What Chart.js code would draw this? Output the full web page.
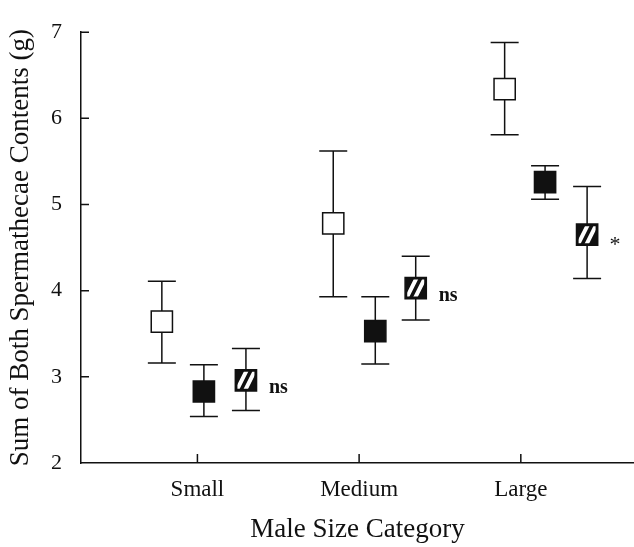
<!DOCTYPE html>
<html>
<head>
<meta charset="utf-8">
<script src="https://cdn.jsdelivr.net/npm/chart.js@4"></script>
<style>
  html, body { margin: 0; padding: 0; background: #fff; overflow: hidden; }
  #wrap { width: 634px; height: 547px; }
</style>
</head>
<body>
<div id="wrap"><canvas id="Chart" width="634" height="547"></canvas></div>
<script>
// categories and tick labels
const categories = ["Small", "Medium", "Large"];
const yTicks = [2, 3, 4, 5, 6, 7];

// where each marker sits along the x axis (category units, 1 = Small)
const openX = [0.78, 1.84, 2.90];
const filledX = [1.04, 2.10, 3.15];
const hatchedX = [1.30, 2.35, 3.41];

// means and error bar ends
const openMeans = [3.64, 4.78, 6.34];
const openLow = [3.16, 3.93, 5.81];
const openHigh = [4.11, 5.62, 6.88];

const filledMeans = [2.83, 3.53, 5.26];
const filledLow = [2.54, 3.15, 5.06];
const filledHigh = [3.14, 3.93, 5.45];

const hatchedMeans = [2.96, 4.03, 4.65];
const hatchedLow = [2.61, 3.66, 4.14];
const hatchedHigh = [3.33, 4.40, 5.21];

const significance = ["ns", "ns", "*"];

const INK = "#111";
const SERIF = "'Liberation Serif', 'DejaVu Serif', serif";

function points(xs, ys) {
  return xs.map(function (x, i) { return { x: x, y: ys[i] }; });
}

const errorBars = [
  { low: openLow, high: openHigh },
  { low: filledLow, high: filledHigh },
  { low: hatchedLow, high: hatchedHigh },
];

const errorBarPlugin = {
  id: "errorBars",
  afterLayout(chart) {
    // let the x axis run to the right edge of the canvas
    const x = chart.scales.x;
    const r = chart.width;
    chart.chartArea.right = r;
    chart.chartArea.width = r - chart.chartArea.left;
    x.right = r;
    x.width = r - x.left;
    x.configure();
    x._labelItems = null;
    x._gridLineItems = null;
  },
  beforeDatasetsDraw(chart) {
    const ctx = chart.ctx;
    const ys = chart.scales.y;
    ctx.save();
    ctx.strokeStyle = INK;
    ctx.lineWidth = 1.5;
    chart.data.datasets.forEach(function (ds, i) {
      const meta = chart.getDatasetMeta(i);
      meta.data.forEach(function (pt, j) {
        const yLo = ys.getPixelForValue(errorBars[i].low[j]);
        const yHi = ys.getPixelForValue(errorBars[i].high[j]);
        ctx.beginPath();
        ctx.moveTo(pt.x, yLo); ctx.lineTo(pt.x, yHi);
        ctx.moveTo(pt.x - 14, yLo); ctx.lineTo(pt.x + 14, yLo);
        ctx.moveTo(pt.x - 14, yHi); ctx.lineTo(pt.x + 14, yHi);
        ctx.stroke();
      });
    });
    ctx.restore();
  },
  afterDatasetsDraw(chart) {
    const ctx = chart.ctx;
    const meta = chart.getDatasetMeta(2);
    ctx.save();
    // white diagonal stripes in the hatched boxes
    meta.data.forEach(function (pt) {
      ctx.save();
      ctx.beginPath();
      ctx.rect(pt.x - 8.5, pt.y - 8.5, 17, 17);
      ctx.clip();
      ctx.strokeStyle = "#fff";
      ctx.lineWidth = 4;
      ctx.beginPath();
      [-4.2, 4.2].forEach(function (dx) {
        ctx.moveTo(pt.x + dx - 6, pt.y + 12);
        ctx.lineTo(pt.x + dx + 6, pt.y - 12);
      });
      ctx.stroke();
      ctx.restore();
    });
    ctx.fillStyle = INK;
    ctx.textBaseline = "middle";
    meta.data.forEach(function (pt, j) {
      const t = significance[j];
      if (t === "*") {
        ctx.font = "22px " + SERIF;
        ctx.textAlign = "center";
        ctx.fillText(t, pt.x + 28, pt.y + 11);
      } else {
        ctx.font = "bold 20px " + SERIF;
        ctx.textAlign = "left";
        ctx.fillText(t, pt.x + 23, pt.y + 8);
      }
    });
    ctx.restore();
  },
  afterDraw(chart) {
    // tick marks pointing into the plot
    const ctx = chart.ctx;
    const xs = chart.scales.x, ys = chart.scales.y;
    const a = chart.chartArea;
    ctx.save();
    ctx.strokeStyle = INK;
    ctx.lineWidth = 1.5;
    ctx.beginPath();
    yTicks.forEach(function (v) {
      if (v === yTicks[0]) return;
      const y = ys.getPixelForValue(v);
      ctx.moveTo(a.left, y); ctx.lineTo(a.left + 8, y);
    });
    categories.forEach(function (c, i) {
      const x = xs.getPixelForValue(i + 1);
      ctx.moveTo(x, a.bottom); ctx.lineTo(x, a.bottom - 9);
    });
    ctx.stroke();
    ctx.restore();
  },
};

new Chart(document.getElementById("Chart").getContext("2d"), {
  type: "scatter",
  data: {
    datasets: [
      {
        data: points(openX, openMeans),
        pointStyle: "rect",
        pointRadius: 15,
        backgroundColor: "#fff",
        borderColor: INK,
        borderWidth: 1.5,
      },
      {
        data: points(filledX, filledMeans),
        pointStyle: "rect",
        pointRadius: 15,
        backgroundColor: INK,
        borderColor: INK,
        borderWidth: 1.5,
      },
      {
        data: points(hatchedX, hatchedMeans),
        pointStyle: "rect",
        pointRadius: 15,
        backgroundColor: INK,
        borderColor: INK,
        borderWidth: 1.5,
      },
    ],
  },
  options: {
    responsive: false,
    animation: false,
    events: [],
    layout: { padding: { top: 31, right: 0, left: 0, bottom: 0 } },
    plugins: { legend: { display: false }, tooltip: { enabled: false } },
    scales: {
      x: {
        type: "linear",
        min: 0.28,
        max: 3.7,
        grid: { display: false, drawTicks: false },
        border: { display: true, color: INK, width: 1.5 },
        afterBuildTicks: function (scale) {
          scale.ticks = categories.map(function (c, i) { return { value: i + 1 }; });
        },
        afterFit: function (scale) { scale.height = 84; },
        ticks: {
          padding: 13,
          color: INK,
          font: { family: SERIF, size: 23 },
          callback: function (v) { return categories[v - 1]; },
        },
        title: {
          display: true,
          text: "Male Size Category",
          color: INK,
          font: { family: SERIF, size: 27, lineHeight: 1 },
          padding: { top: 0, bottom: 4 },
        },
      },
      y: {
        min: yTicks[0],
        max: yTicks[yTicks.length - 1],
        grid: { display: false, drawTicks: false },
        border: { display: true, color: INK, width: 1.5 },
        afterBuildTicks: function (scale) {
          scale.ticks = yTicks.map(function (v) { return { value: v }; });
        },
        afterFit: function (scale) { scale.width = 81; },
        ticks: {
          padding: 19,
          color: INK,
          font: { family: SERIF, size: 22 },
        },
        title: {
          display: true,
          text: "Sum of Both Spermathecae Contents (g)",
          color: INK,
          font: { family: SERIF, size: 27, lineHeight: 1 },
          padding: { top: 7, bottom: 0 },
        },
      },
    },
  },
  plugins: [errorBarPlugin],
});
</script>
</body>
</html>
